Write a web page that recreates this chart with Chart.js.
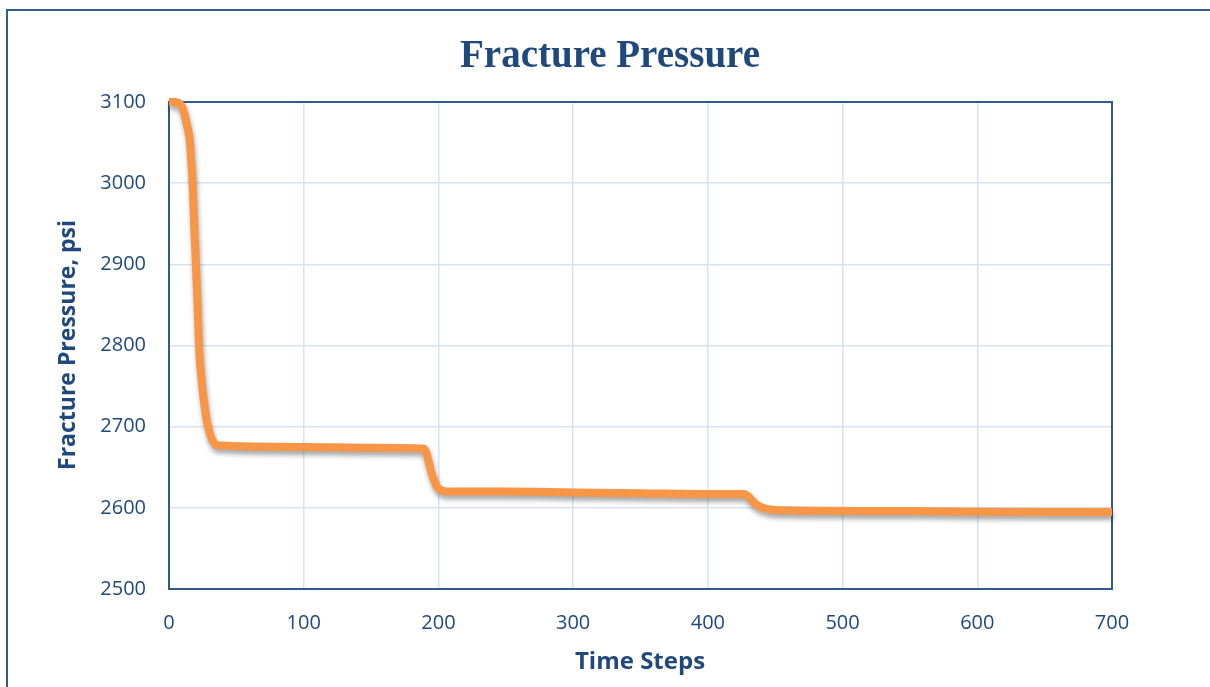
<!DOCTYPE html>
<html>
<head>
<meta charset="utf-8">
<script src="https://cdn.jsdelivr.net/npm/chart.js@4/dist/chart.umd.min.js"></script>
<style>
  html, body { margin: 0; padding: 0; background: #fff; }
  #wrap { width: 1210px; height: 687px; position: relative; }
</style>
</head>
<body>
<div id="wrap"><canvas id="fracChart" width="1210" height="687"></canvas></div>
<script>
// time steps and fracture pressure (psi)
const timeSteps = [0, 5, 8, 10, 11.5, 13, 14.5, 15.6, 16.5, 17.5, 18.7, 20, 21.2, 22.3, 23.5, 25, 27, 29, 31, 33.5, 36,
    100, 150, 189, 191, 193, 195, 197, 199, 202, 206,
    250, 300, 350, 400, 427, 430, 433, 437, 441, 446, 460,
    550, 650, 700];
const pressure = [3100, 3100, 3098, 3093, 3085, 3074, 3063, 3050, 3028, 3000, 2950, 2900, 2850, 2800, 2770, 2745, 2718, 2700, 2688, 2680, 2677,
    2675, 2674, 2673, 2668, 2655, 2643, 2633, 2626, 2622, 2620,
    2620, 2619, 2618, 2617, 2617, 2614, 2609, 2603, 2600, 2598, 2597,
    2596, 2595, 2595];

const xTicks = [0, 100, 200, 300, 400, 500, 600, 700];
const yTicks = [2500, 2600, 2700, 2800, 2900, 3000, 3100];

const chartTitle = 'Fracture Pressure';
const xTitle = 'Time Steps';
const yTitle = 'Fracture Pressure, psi';

const textBlue = '#1F497D';
const borderBlue = '#2F5A8E';

// frame, titles and plot box
const decorPlugin = {
    id: 'decor',
    beforeDatasetsDraw(chart) {
        const ctx = chart.ctx;
        const a = chart.chartArea;
        ctx.save();
        ctx.strokeStyle = borderBlue;
        ctx.lineWidth = 2;
        ctx.strokeRect(a.left, a.top, a.right - a.left, a.bottom - a.top);
        ctx.restore();
        // shadow under the line
        ctx.save();
        ctx.shadowColor = 'rgba(0,0,0,0.35)';
        ctx.shadowBlur = 5;
        ctx.shadowOffsetX = 1;
        ctx.shadowOffsetY = 4;
    },
    afterDatasetsDraw(chart) {
        chart.ctx.restore();
    },
    afterDraw(chart) {
        const ctx = chart.ctx;
        ctx.save();
        // outer frame
        ctx.strokeStyle = borderBlue;
        ctx.lineWidth = 2;
        ctx.beginPath();
        ctx.moveTo(7, 687);
        ctx.lineTo(7, 10);
        ctx.lineTo(1210, 10);
        ctx.stroke();

        ctx.fillStyle = textBlue;
        ctx.textAlign = 'center';
        ctx.textBaseline = 'middle';
        ctx.font = 'bold 39px "Liberation Serif"';
        ctx.fillText(chartTitle, 610, 57);

        ctx.font = 'bold 24px "Open Sans"';
        ctx.fillText(xTitle, 640, 662);

        ctx.translate(68, 345);
        ctx.rotate(-Math.PI / 2);
        ctx.font = 'bold 23px "Open Sans"';
        ctx.fillText(yTitle, 0, 0);
        ctx.restore();
    }
};

const ctx = document.getElementById('fracChart').getContext('2d');
new Chart(ctx, {
    type: 'line',
    data: {
        datasets: [{
            data: timeSteps.map((t, i) => ({ x: t, y: pressure[i] })),
            borderColor: '#F79646',
            borderWidth: 8,
            pointRadius: 0,
            cubicInterpolationMode: 'monotone',
            borderCapStyle: 'butt',
            borderJoinStyle: 'round',
            clip: false
        }]
    },
    options: {
        responsive: false,
        animation: false,
        layout: { padding: { top: 102, right: 98, left: 0, bottom: 0 } },
        plugins: {
            legend: { display: false },
            tooltip: { enabled: false }
        },
        scales: {
            x: {
                type: 'linear',
                min: 0,
                max: 700,
                afterBuildTicks(scale) { scale.ticks = xTicks.map(v => ({ value: v })); },
                afterFit(scale) { scale.height = 98; },
                grid: { color: '#D9E3F0', lineWidth: 1.5, drawTicks: false },
                border: { display: false },
                ticks: {
                    padding: 22,
                    color: textBlue,
                    font: { family: 'Open Sans', size: 20 },
                    maxRotation: 0,
                    callback: v => String(v)
                }
            },
            y: {
                min: 2500,
                max: 3100,
                afterBuildTicks(scale) { scale.ticks = yTicks.map(v => ({ value: v })); },
                afterFit(scale) { scale.width = 169; },
                grid: { color: '#D9E3F0', lineWidth: 1.5, drawTicks: false },
                border: { display: false },
                ticks: {
                    padding: 23,
                    color: textBlue,
                    font: { family: 'Open Sans', size: 20 },
                    callback: v => String(v)
                }
            }
        }
    },
    plugins: [decorPlugin]
});
</script>
</body>
</html>
